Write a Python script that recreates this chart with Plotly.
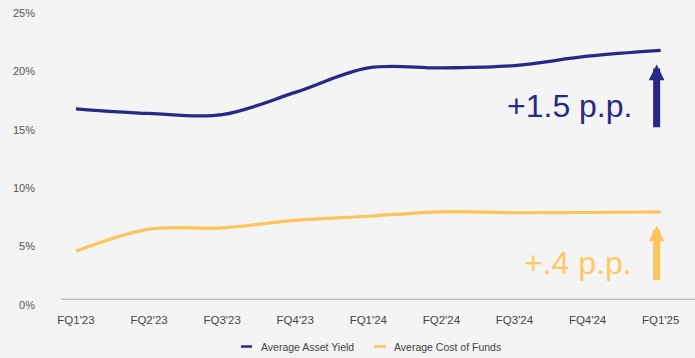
import plotly.graph_objects as go

# Quarterly yield vs. funding cost (percent)
quarters = ["FQ1'23", "FQ2'23", "FQ3'23", "FQ4'23", "FQ1'24",
            "FQ2'24", "FQ3'24", "FQ4'24", "FQ1'25"]
asset_yield = [16.8, 16.4, 16.3, 18.2, 20.3, 20.3, 20.5, 21.3, 21.8]
cost_of_funds = [4.6, 6.5, 6.6, 7.25, 7.6, 7.98, 7.9, 7.92, 7.98]
y_ticks = [0, 5, 10, 15, 20, 25]
y_tick_labels = [f"{v}%" for v in y_ticks]

NAVY = "#2a2886"
GOLD = "#fbc55c"
GOLD_TEXT = "#fcc965"
BG = "#f4f4f4"
FONT = "Liberation Sans, Arial, sans-serif"

fig = go.Figure()
fig.add_trace(go.Scatter(
    x=quarters, y=asset_yield, mode="lines", name="Average Asset Yield",
    line=dict(color=NAVY, width=3.3, shape="spline", smoothing=1.0),
    showlegend=False, hoverinfo="skip"))
fig.add_trace(go.Scatter(
    x=quarters, y=cost_of_funds, mode="lines", name="Average Cost of Funds",
    line=dict(color=GOLD, width=3.2, shape="spline", smoothing=1.0),
    showlegend=False, hoverinfo="skip"))

# Baseline rule under the plot
fig.add_shape(type="line", xref="paper", yref="y", x0=0, x1=1, y0=0.49, y1=0.49,
              line=dict(color="#bdbdbd", width=1.6))

# Change callouts with upward arrows (head at x/y, tail at ax/ay)
fig.add_annotation(x=8, y=20.6, ax=8, ay=15.1, xref="x", yref="y", axref="x", ayref="y",
                   text="", showarrow=True, arrowhead=2, arrowsize=0.45, arrowwidth=7,
                   arrowcolor=NAVY, xshift=-4, standoff=0, startstandoff=0)
fig.add_annotation(x=7.63, y=17.0, xref="x", yref="y", text="+1.5 p.p.",
                   showarrow=False, xanchor="right", yanchor="middle",
                   font=dict(family=FONT, size=32, color=NAVY))

fig.add_annotation(x=8, y=6.8, ax=8, ay=2.0, xref="x", yref="y", axref="x", ayref="y",
                   text="", showarrow=True, arrowhead=2, arrowsize=0.45, arrowwidth=7,
                   arrowcolor=GOLD, xshift=-4, standoff=0, startstandoff=0)
fig.add_annotation(x=7.63, y=3.6, xref="x", yref="y", text="+.4 p.p.",
                   showarrow=False, xanchor="right", yanchor="middle",
                   font=dict(family=FONT, size=32, color=GOLD_TEXT))

# Legend row
W = 634.0
H = 292.0
def px_x(p):
    return (p - 61) / W
def px_y(p):
    return (305 - p) / H

legend_y = px_y(346.5)
fig.add_shape(type="line", xref="paper", yref="paper", x0=px_x(241), x1=px_x(252),
              y0=legend_y, y1=legend_y, line=dict(color=NAVY, width=2.5))
fig.add_annotation(x=px_x(259), y=legend_y, xref="paper", yref="paper",
                   text="Average Asset Yield", showarrow=False, xanchor="left",
                   yanchor="middle", font=dict(family=FONT, size=10.5, color="#444444"))
fig.add_shape(type="line", xref="paper", yref="paper", x0=px_x(374), x1=px_x(386),
              y0=legend_y, y1=legend_y, line=dict(color=GOLD, width=2.5))
fig.add_annotation(x=px_x(392), y=legend_y, xref="paper", yref="paper",
                   text="Average Cost of Funds", showarrow=False, xanchor="left",
                   yanchor="middle", font=dict(family=FONT, size=10.5, color="#444444"))

fig.update_layout(
    width=695, height=358,
    margin=dict(l=61, r=0, t=13, b=53),
    paper_bgcolor=BG, plot_bgcolor=BG,
    font=dict(family=FONT, size=11, color="#555555"),
    showlegend=False,
    xaxis=dict(type="category", range=[-0.205, 8.47], showgrid=False, zeroline=False,
               showline=False, ticks="", ticklabelstandoff=6,
               tickfont=dict(family=FONT, size=11.5, color="#444444"),
               fixedrange=True),
    yaxis=dict(range=[0, 25], tickvals=y_ticks, ticktext=y_tick_labels,
               showgrid=False, zeroline=False, showline=False, ticks="",
               ticklabelstandoff=25,
               tickfont=dict(family=FONT, size=11, color="#555555"),
               fixedrange=True),
)

fig.write_html("out.html")
